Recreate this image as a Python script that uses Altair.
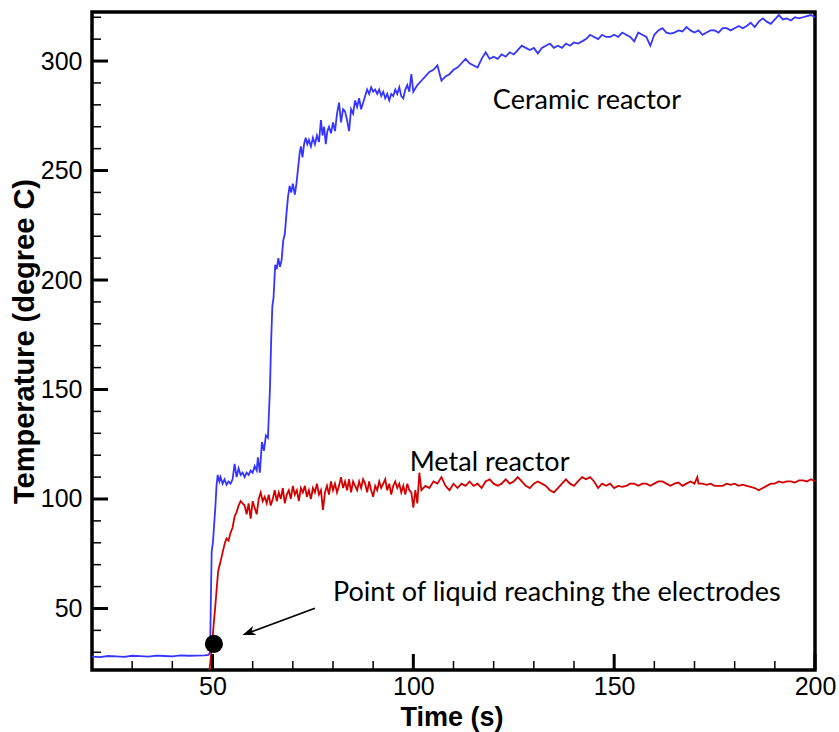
import altair as alt
import pandas as pd

# ---- data (time s, temperature degC) ----
ceramic_points = [
    (20, 28.0), (22, 27.8), (24, 28.3), (26, 28.1), (28, 27.9), (30, 28.4), (32, 28.2), (34, 28.0),
    (36, 28.5), (38, 28.3), (40, 28.1), (42, 28.6), (44, 28.4), (46, 28.5), (48, 28.6), (49.0, 28.8),
    (49.4, 30), (49.6, 55), (49.8, 76), (50.1, 80), (50.4, 88), (50.7, 96), (51.0, 106), (51.3, 111),
    (51.7, 108), (52.0, 110), (52.5, 107), (53.0, 109), (53.5, 106.5), (54.0, 108), (54.5, 107),
    (55.0, 109), (55.5, 116), (56.0, 110), (56.5, 114), (57.0, 111), (57.5, 112), (58.0, 110),
    (58.5, 112), (59.0, 111), (59.5, 113), (60.0, 112), (60.5, 115), (61.0, 113), (61.3, 119),
    (61.8, 112), (62.3, 126), (62.8, 122), (63.3, 129), (63.8, 128), (64.0, 137), (64.3, 150),
    (64.6, 172), (64.9, 188), (65.2, 192), (65.6, 207), (66.0, 205), (66.4, 210), (66.8, 206),
    (67.2, 209), (67.6, 218), (68.0, 221), (68.4, 230), (68.8, 238), (69.2, 243), (69.6, 240),
    (70.0, 244), (70.5, 239), (70.9, 244), (71.3, 251), (71.7, 258), (72.0, 261), (72.4, 256),
    (72.8, 262), (73.2, 265), (73.6, 262), (74.0, 264), (74.5, 261), (75.0, 265), (75.5, 262),
    (76.0, 266), (76.5, 263), (77.0, 273), (77.4, 266), (77.8, 270), (78.2, 262), (78.6, 268),
    (79.0, 270), (79.5, 267), (80.0, 272), (80.5, 268), (81.0, 276), (81.5, 281), (82.0, 272),
    (82.5, 278), (83.0, 277), (83.5, 273), (84.0, 268), (84.5, 278), (85.0, 276), (85.5, 282),
    (86.0, 279), (86.5, 283), (87.0, 278), (87.5, 281), (88.0, 284), (88.5, 287), (89.0, 285),
    (89.5, 288), (90.0, 286), (90.5, 287), (91.0, 285), (91.5, 287), (92.0, 284), (92.5, 286),
    (93.0, 283), (93.5, 285), (94.0, 282), (94.5, 285), (95.0, 284), (95.5, 287), (96.0, 285),
    (96.5, 288), (97.0, 284), (97.5, 283), (98.0, 287), (98.5, 289), (99.0, 286), (99.5, 294),
    (100, 286), (101, 289), (102, 291), (103, 293), (104, 295), (105, 296), (106, 298), (107, 291),
    (108, 293), (109, 294), (110, 296), (111, 297), (112, 299), (113, 301), (114, 299), (115, 298),
    (116, 297), (117, 301), (118, 304), (119, 301), (120, 302), (121, 301), (122, 303), (123, 302),
    (124, 304), (125, 303), (126, 305), (127, 307), (128, 306), (129, 305), (130, 306), (131, 303.5),
    (132, 306), (133, 307), (134, 308), (135, 306), (136, 307), (137, 306), (138, 308), (139, 307),
    (140, 308.5), (141, 308), (142, 309), (143, 310), (144, 312), (145, 311), (146, 310), (147, 312),
    (148, 311), (149, 311), (150, 312), (151, 311), (152, 313), (153, 312), (154, 311), (155, 309),
    (156, 313), (157, 312), (158, 311), (159, 307), (160, 312), (161, 314), (162, 315), (163, 313),
    (164, 312.5), (165, 313), (166, 314), (167, 313.5), (168, 315.5), (169, 314), (170, 313),
    (171, 314), (172, 312), (173, 313), (174, 314), (175, 314), (176, 313), (177, 315), (178, 315),
    (179, 314), (180, 315), (181, 316), (182, 315), (183, 316), (184, 317.5), (185, 315.5),
    (186, 318), (187, 319.5), (188, 318), (189, 317), (190, 319), (191, 321), (192, 319),
    (193, 319.5), (194, 318.5), (195, 320), (196, 319.5), (197, 320), (198, 320.5), (199, 321),
    (200, 320),
]

metal_points = [
    (49.0, 18), (49.5, 26), (50.0, 36), (50.3, 43), (50.6, 49), (51.0, 58), (51.4, 67), (51.8, 70),
    (52.2, 73), (52.7, 77), (53.1, 80), (53.5, 82), (54.0, 81), (54.4, 84), (55.0, 87), (55.5, 92),
    (56.0, 94), (56.5, 97), (57.0, 99), (57.5, 98), (58.0, 97), (58.5, 93), (59.0, 98), (59.5, 91),
    (60.0, 99), (60.5, 96), (61.0, 93), (61.5, 100), (62.0, 103), (62.5, 99), (63.0, 101), (63.5, 98),
    (64.0, 102), (64.5, 97), (65.0, 100), (65.5, 104), (66.0, 99), (66.5, 103), (67.0, 100),
    (67.5, 105), (68.0, 98), (68.5, 102), (69.0, 104), (69.5, 100), (70.0, 106), (70.5, 102),
    (71.0, 104), (71.5, 99), (72.0, 105), (72.5, 103), (73.0, 106), (73.5, 101), (74.0, 104),
    (74.5, 100), (75.0, 105), (75.5, 103), (76.0, 107), (76.5, 102), (77.0, 104), (77.5, 95),
    (78.0, 103), (78.5, 106), (79.0, 102), (79.5, 108), (80.0, 104), (80.5, 107), (81.0, 103),
    (81.5, 106), (82.0, 110), (82.5, 105), (83.0, 108), (83.5, 104), (84.0, 109), (84.5, 103),
    (85.0, 108), (85.5, 106), (86.0, 104), (86.5, 108), (87.0, 105), (87.5, 109), (88.0, 107),
    (88.5, 103), (89.0, 108), (89.5, 104), (90.0, 101), (90.5, 106), (91.0, 104), (91.5, 108),
    (92.0, 105), (92.5, 107), (93.0, 109), (93.5, 104), (94.0, 107), (94.5, 102), (95.0, 106),
    (95.5, 108), (96.0, 105), (96.5, 107), (97.0, 103), (97.5, 106), (98.0, 102), (98.5, 107),
    (99.0, 104), (99.5, 103), (100.0, 96), (100.5, 104), (101.0, 98), (101.5, 112), (102.0, 104),
    (103, 106), (104, 105), (105, 108), (106, 107), (107, 110), (108, 106), (109, 104), (110, 107),
    (111, 105), (112, 107), (113, 106), (114, 108), (115, 106), (116, 107), (117, 105), (118, 108),
    (119, 109), (120, 107), (121, 106), (122, 107), (123, 109), (124, 107), (125, 108), (126, 110),
    (127, 108), (128, 106), (129, 105), (130, 107), (131, 108), (132, 107), (133, 106), (134, 104),
    (135, 103), (136, 105), (137, 107), (138, 109), (139, 107), (140, 106), (141, 108), (142, 110),
    (143, 109), (144, 110), (145, 108), (146, 105), (147, 107), (148, 106), (149, 107), (150, 105),
    (151, 106), (152, 105.5), (153, 106), (154, 107), (155, 107), (156, 106), (157, 107), (158, 107),
    (159, 106), (160, 107), (161, 108), (162, 108), (163, 107), (164, 106), (165, 107), (166, 107.5),
    (167, 106), (168, 107), (169, 108), (170, 107), (170.7, 110), (171, 107), (172, 107),
    (173, 106.5), (174, 107), (175, 106), (176, 106), (177, 106), (178, 107), (179, 106.5),
    (180, 107), (181, 106), (182, 106.5), (183, 106), (184, 105.5), (185, 105), (186, 104),
    (187, 105), (188, 106), (189, 107), (190, 107), (191, 108), (192, 107.5), (193, 108), (194, 108),
    (195, 107.5), (196, 108.5), (197, 108.5), (198, 108), (199, 109), (200, 108),
]

x_major = [50, 100, 150, 200]
x_minor = [30, 40, 60, 70, 80, 90, 110, 120, 130, 140, 160, 170, 180, 190]
y_major = [50, 100, 150, 200, 250, 300]
y_minor = [30, 40, 60, 70, 80, 90, 110, 120, 130, 140, 160, 170, 180, 190,
           210, 220, 230, 240, 260, 270, 280, 290, 310, 320]

labels = ["Ceramic reactor", "Metal reactor", "Point of liquid reaching the electrodes"]
label_x = [119.8, 99.1, 80.0]
label_y = [281.7, 116.4, 57.1]

event_point = (50.35, 33.8)
arrow_tail = (75.5, 50.1)
arrow_head = (59.0, 38.9)

# ---- chart ----
W, H = 723, 658
xs = alt.Scale(domain=[20, 200], nice=False, zero=False)
ys = alt.Scale(domain=[21.9, 322.4], nice=False, zero=False)

ceramic = pd.DataFrame(ceramic_points, columns=["x", "y"])
metal = pd.DataFrame(metal_points, columns=["x", "y"])

x_axis = alt.Axis(values=x_major, ticks=False, domain=False, grid=False, labelFont="Liberation Sans",
                  labelFontSize=25, labelColor="black", labelPadding=4, title="Time (s)",
                  titleFont="Liberation Sans", titleFontSize=27, titleFontWeight="bold",
                  titleColor="black", titleX=W / 2 - 2, titleY=47, titleBaseline="middle",
                  labelFlush=False)
y_axis = alt.Axis(values=y_major, ticks=False, domain=False, grid=False, labelFont="Liberation Sans",
                  labelFontSize=25, labelColor="black", labelPadding=10,
                  title="Temperature (degree C)", titleFont="Liberation Sans", titleFontSize=29,
                  titleFontWeight="bold", titleColor="black", titleX=-68, titleY=H / 2,
                  titleBaseline="middle", labelFlush=False)


def X(field="x"):
    return alt.X(f"{field}:Q", scale=xs, axis=x_axis)


def Y(field="y"):
    return alt.Y(f"{field}:Q", scale=ys, axis=y_axis)


line_c = alt.Chart(ceramic).mark_line(color="#3535ff", strokeWidth=1.8, clip=True).encode(
    x=X(), y=Y(), order="x:Q")
line_m = alt.Chart(metal).mark_line(color="#d40000", strokeWidth=1.8, clip=True).encode(
    x=X(), y=Y(), order="x:Q")


def xticks(vals, length, width):
    return alt.Chart(pd.DataFrame({"x": vals})).mark_rule(color="black", strokeWidth=width).encode(
        x=X(), y=alt.value(H), y2=alt.value(H - length))


def yticks(vals, length, width):
    return alt.Chart(pd.DataFrame({"y": vals})).mark_rule(color="black", strokeWidth=width).encode(
        y=Y(), x=alt.value(0), x2=alt.value(length))


ann = pd.DataFrame({"x": label_x, "y": label_y, "text": labels})
texts = alt.Chart(ann).mark_text(align="left", baseline="middle", font="Lato", fontSize=27,
                                 color="black").encode(x=X(), y=Y(), text="text:N")

arrow_line = alt.Chart(pd.DataFrame({"x": [arrow_tail[0]], "y": [arrow_tail[1]],
                                     "x2": [arrow_head[0]], "y2": [arrow_head[1]]})).mark_rule(
    color="black", strokeWidth=1.6).encode(x=X(), y=Y(), x2="x2:Q", y2="y2:Q")

arrow_head_mark = alt.Chart(pd.DataFrame({"x": [arrow_head[0]], "y": [arrow_head[1]]})).mark_point(
    shape="M0,-1 L0.75,1 L0,0.45 L-0.75,1 Z", filled=True, color="black", opacity=1, size=170,
    angle=249.6).encode(x=X(), y=Y())

dot = alt.Chart(pd.DataFrame({"x": [event_point[0]], "y": [event_point[1]]})).mark_circle(
    color="black", opacity=1, size=330).encode(x=X(), y=Y())

chart = alt.layer(
    line_c, line_m,
    xticks(x_major, 16, 3), xticks(x_minor, 9, 1.5),
    yticks(y_major, 16, 3), yticks(y_minor, 9, 1.5),
    texts, arrow_line, arrow_head_mark, dot,
).properties(
    width=W, height=H,
    autosize=alt.AutoSizeParams(type="none"),
    padding={"left": 92, "top": 12, "right": 24, "bottom": 62},
).configure_view(stroke="black", strokeWidth=3.5)

chart.save("out.html", embed_options={"renderer": "svg", "actions": False})
